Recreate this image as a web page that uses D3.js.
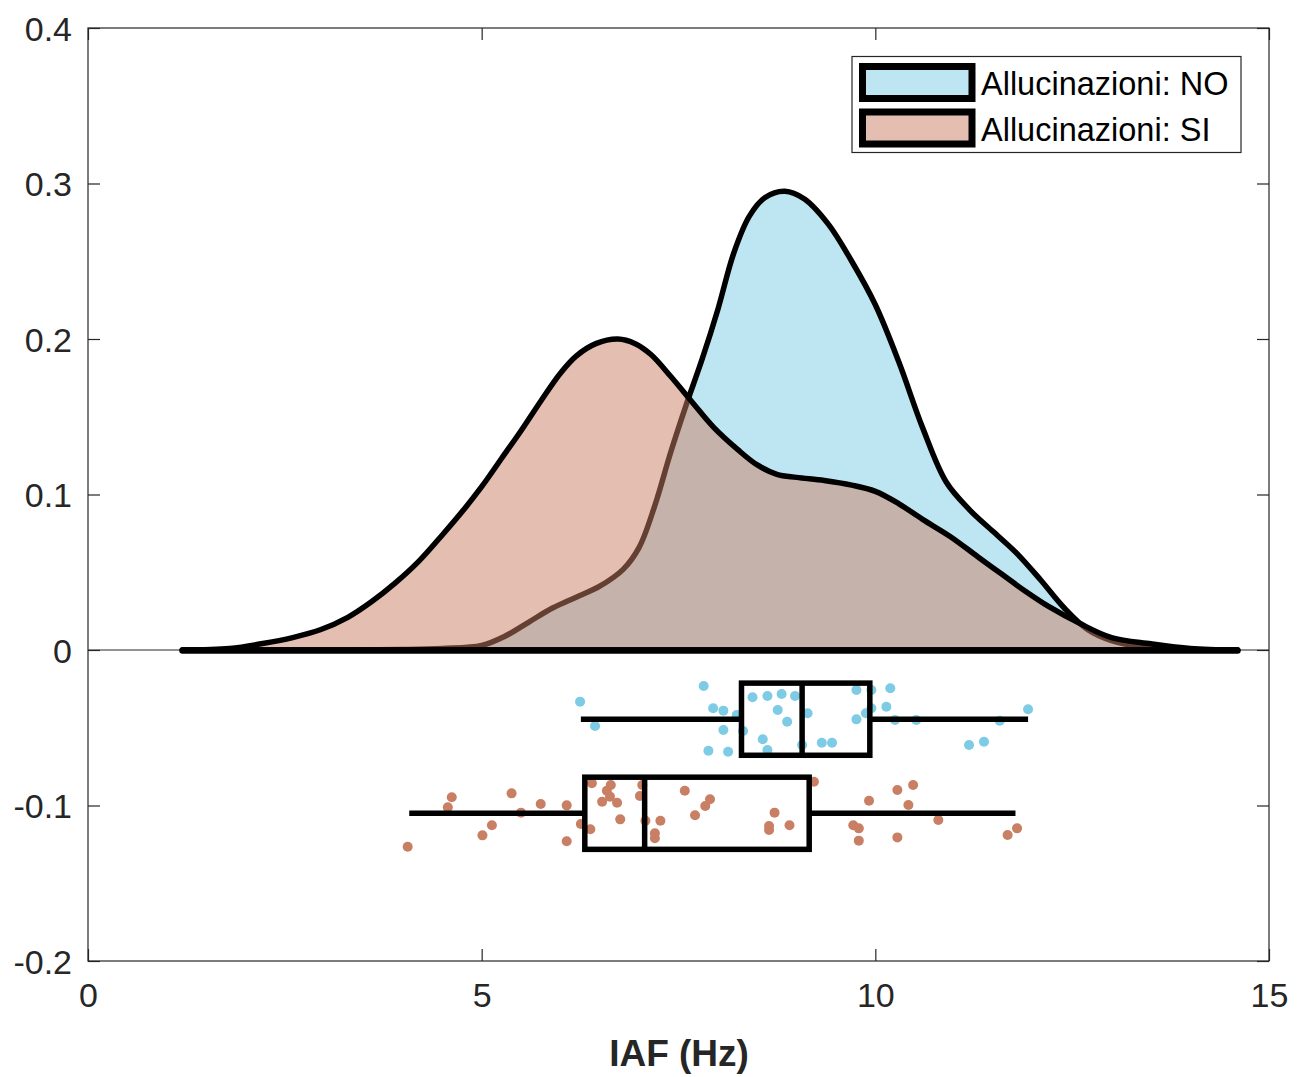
<!DOCTYPE html>
<html>
<head>
<meta charset="utf-8">
<script src="https://cdn.jsdelivr.net/npm/d3@7"></script>
<style>
  html, body { margin: 0; padding: 0; background: #fff; }
  svg { display: block; font-family: "Liberation Sans", Arial, Helvetica, sans-serif; }
</style>
</head>
<body>
<svg id="chart" width="1306" height="1077"></svg>
<script>
// ---------- DATA ----------
const seriesNames = ["Allucinazioni: NO", "Allucinazioni: SI"];
const seriesColors = ["#7DCBE5", "#C97F64"];

// kernel density
const gridNO = [1.2, 2.0, 3.0, 4.0, 4.5, 5.0, 5.3, 5.6, 5.9, 6.2, 6.5, 6.8, 7.0, 7.2, 7.4, 7.6, 7.8, 8.0, 8.2, 8.4, 8.6, 8.85, 9.1, 9.4, 9.7, 10.0, 10.3, 10.6, 10.9, 11.2, 11.5, 11.8, 12.1, 12.4, 12.7, 13.0, 13.4, 14.0, 14.6];
const densNO = [0, 0, 0, 0.0003, 0.001, 0.003, 0.009, 0.018, 0.027, 0.034, 0.041, 0.052, 0.066, 0.093, 0.127, 0.158, 0.187, 0.219, 0.255, 0.279, 0.291, 0.295, 0.290, 0.274, 0.250, 0.222, 0.185, 0.143, 0.108, 0.090, 0.076, 0.062, 0.045, 0.027, 0.013, 0.006, 0.002, 0.0003, 0];

const gridSI = [1.2, 1.8, 2.2, 2.6, 2.95, 3.3, 3.6, 3.9, 4.2, 4.5, 4.8, 5.0, 5.25, 5.5, 5.75, 6.0, 6.2, 6.45, 6.73, 6.95, 7.15, 7.4, 7.68, 7.95, 8.25, 8.5, 8.75, 9.0, 9.35, 9.7, 10.0, 10.3, 10.6, 10.95, 11.3, 11.6, 11.9, 12.2, 12.6, 13.0, 13.5, 14.0, 14.6];
const densSI = [0, 0.001, 0.004, 0.008, 0.013, 0.021, 0.031, 0.043, 0.057, 0.074, 0.092, 0.105, 0.123, 0.141, 0.160, 0.178, 0.189, 0.197, 0.200, 0.197, 0.190, 0.176, 0.159, 0.143, 0.129, 0.119, 0.113, 0.111, 0.109, 0.106, 0.102, 0.094, 0.084, 0.073, 0.060, 0.049, 0.038, 0.028, 0.017, 0.008, 0.004, 0.001, 0];

// raw points (IAF, jittered y)
const ptsNO_x = [6.25, 6.44, 7.82, 7.94, 8.07, 8.07, 8.24, 7.88, 8.13, 8.32, 8.44, 8.63, 8.81, 8.98, 8.76, 8.88, 8.57, 8.63, 9.07, 9.14, 9.32, 9.45, 9.76, 9.95, 10.19, 10.14, 9.95, 9.88, 9.76, 10.25, 10.52, 11.19, 11.38, 11.58, 11.94];
const ptsNO_y = [-0.0332, -0.0489, -0.0232, -0.0375, -0.0390, -0.0514, -0.0418, -0.0648, -0.0654, -0.0521, -0.0304, -0.0296, -0.0283, -0.0296, -0.0386, -0.0461, -0.0574, -0.0643, -0.0611, -0.0407, -0.0596, -0.0596, -0.0257, -0.0257, -0.0246, -0.0365, -0.0375, -0.0407, -0.0446, -0.0450, -0.0450, -0.0611, -0.0590, -0.0455, -0.0381];

const ptsSI_x = [4.06, 4.62, 4.57, 5.01, 5.13, 5.38, 5.50, 5.75, 6.08, 6.08, 6.26, 6.38, 6.40, 6.53, 6.59, 6.64, 6.63, 6.72, 6.76, 7.01, 7.04, 7.08, 7.20, 7.20, 7.27, 7.58, 7.71, 7.84, 7.90, 8.65, 8.65, 8.72, 8.91, 9.22, 9.72, 9.79, 9.79, 9.92, 10.28, 10.48, 10.42, 10.28, 10.80, 11.68, 11.80];
const ptsSI_y = [-0.1265, -0.0947, -0.1012, -0.1192, -0.1127, -0.0922, -0.1046, -0.0990, -0.0999, -0.1230, -0.1119, -0.1153, -0.0857, -0.0976, -0.0905, -0.0868, -0.0943, -0.0982, -0.1089, -0.0939, -0.0868, -0.1098, -0.1179, -0.1211, -0.1098, -0.0905, -0.1063, -0.1003, -0.0960, -0.1132, -0.1158, -0.1046, -0.1127, -0.0847, -0.1127, -0.1147, -0.1226, -0.0969, -0.0900, -0.0868, -0.0997, -0.1205, -0.1093, -0.1190, -0.1147];

// box plot statistics [whiskerLow, q1, median, q3, whiskerHigh]
const boxNO = [6.26, 8.30, 9.07, 9.93, 11.94];
const boxSI = [4.08, 6.31, 7.07, 9.16, 11.78];
const boxCenters = [-0.0445, -0.105];
const boxHalfHeight = 0.0232;

const xTicks = [0, 5, 10, 15];
const yTicks = [-0.2, -0.1, 0, 0.1, 0.2, 0.3, 0.4];
const yTickLabels = ["-0.2", "-0.1", "0", "0.1", "0.2", "0.3", "0.4"];
const xLabel = "IAF (Hz)";

// ---------- LAYOUT ----------
const L = 88, R = 1269, T = 28, B = 961;
const axisColor = "#262626";
const svg = d3.select("#chart");
const x = d3.scaleLinear().domain([0, 15]).range([L, R]);
const y = d3.scaleLinear().domain([-0.2, 0.4]).range([B, T]);

// zero line
svg.append("line")
  .attr("x1", L).attr("x2", R).attr("y1", y(0)).attr("y2", y(0))
  .attr("stroke", axisColor).attr("stroke-width", 1);

// densities
const area = d3.area()
  .x(d => x(d[0])).y0(y(0)).y1(d => Math.min(y(0), y(d[1])))
  .curve(d3.curveCatmullRom.alpha(0.5));

const densities = [
  d3.zip(gridNO, densNO),
  d3.zip(gridSI, densSI)
];
densities.forEach((pts, i) => {
  svg.append("path")
    .attr("d", area(pts))
    .attr("fill", seriesColors[i])
    .attr("fill-opacity", 0.5)
    .attr("stroke", "#000")
    .attr("stroke-width", 5.5)
    .attr("stroke-linejoin", "round")
    .attr("stroke-linecap", "round");
});
// emphasised baseline where both outlines overlap
svg.append("line")
  .attr("x1", x(gridSI[0])).attr("x2", x(gridSI[gridSI.length - 1]))
  .attr("y1", y(0) + 0.5).attr("y2", y(0) + 0.5)
  .attr("stroke", "#000").attr("stroke-width", 6.5).attr("stroke-linecap", "round");

// dots
const dotSets = [
  d3.zip(ptsNO_x, ptsNO_y),
  d3.zip(ptsSI_x, ptsSI_y)
];
dotSets.forEach((pts, i) => {
  svg.append("g").selectAll("circle").data(pts).join("circle")
    .attr("cx", d => x(d[0])).attr("cy", d => y(d[1]))
    .attr("r", 5)
    .attr("fill", seriesColors[i]);
});

// boxes
[boxNO, boxSI].forEach((b, i) => {
  const c = boxCenters[i];
  const g = svg.append("g").attr("stroke", "#000").attr("stroke-width", 5.5).attr("fill", "none");
  g.append("line").attr("x1", x(b[0])).attr("x2", x(b[1])).attr("y1", y(c)).attr("y2", y(c));
  g.append("line").attr("x1", x(b[3])).attr("x2", x(b[4])).attr("y1", y(c)).attr("y2", y(c));
  g.append("rect")
    .attr("x", x(b[1])).attr("y", y(c + boxHalfHeight))
    .attr("width", x(b[3]) - x(b[1]))
    .attr("height", y(c - boxHalfHeight) - y(c + boxHalfHeight));
  g.append("line").attr("x1", x(b[2])).attr("x2", x(b[2]))
    .attr("y1", y(c + boxHalfHeight)).attr("y2", y(c - boxHalfHeight));
});

// axes box
svg.append("rect").attr("x", L).attr("y", T).attr("width", R - L).attr("height", B - T)
  .attr("fill", "none").attr("stroke", axisColor).attr("stroke-width", 1.2);

const tickLen = 12;
const xAxisB = d3.axisBottom(x).tickValues(xTicks).tickSize(-tickLen).tickPadding(22).tickFormat(d3.format("d"));
const gxB = svg.append("g").attr("transform", `translate(0,${B})`).call(xAxisB);
const xAxisT = d3.axisTop(x).tickValues(xTicks).tickSize(-tickLen).tickFormat("");
const gxT = svg.append("g").attr("transform", `translate(0,${T})`).call(xAxisT);
const yAxisL = d3.axisLeft(y).tickValues(yTicks).tickSize(-tickLen).tickPadding(16)
  .tickFormat((d, i) => yTickLabels[i]);
const gyL = svg.append("g").attr("transform", `translate(${L},0)`).call(yAxisL);
const yAxisR = d3.axisRight(y).tickValues(yTicks).tickSize(-tickLen).tickFormat("");
const gyR = svg.append("g").attr("transform", `translate(${R},0)`).call(yAxisR);

[gxB, gxT, gyL, gyR].forEach(g => {
  g.select(".domain").remove();
  g.selectAll(".tick line").attr("stroke", axisColor).attr("stroke-width", 1.2);
  g.selectAll(".tick text").attr("fill", axisColor)
    .style("font-family", "'Liberation Sans', Arial, sans-serif")
    .style("font-size", "34px");
});
gxB.selectAll(".tick text").attr("dy", "0.71em");
gyL.selectAll(".tick text").attr("dy", "0.36em");

// x label
svg.append("text")
  .attr("x", (L + R) / 2 + 0.5).attr("y", 1066)
  .attr("text-anchor", "middle")
  .attr("fill", axisColor)
  .style("font-size", "37px").style("font-weight", "bold")
  .text(xLabel);

// legend
const lg = svg.append("g");
lg.append("rect").attr("x", 852).attr("y", 56.5).attr("width", 389).attr("height", 96)
  .attr("fill", "#fff").attr("stroke", axisColor).attr("stroke-width", 1.2);
seriesNames.forEach((name, i) => {
  const yy = 66.5 + i * 45.5;
  lg.append("rect").attr("x", 862.5).attr("y", yy).attr("width", 109.5).attr("height", 32)
    .attr("fill", seriesColors[i]).attr("fill-opacity", 0.5)
    .attr("stroke", "#000").attr("stroke-width", 7);
  lg.append("text").attr("x", 981).attr("y", yy + 28.5)
    .attr("fill", "#000").style("font-size", "32.5px")
    .text(name);
});
</script>
</body>
</html>
